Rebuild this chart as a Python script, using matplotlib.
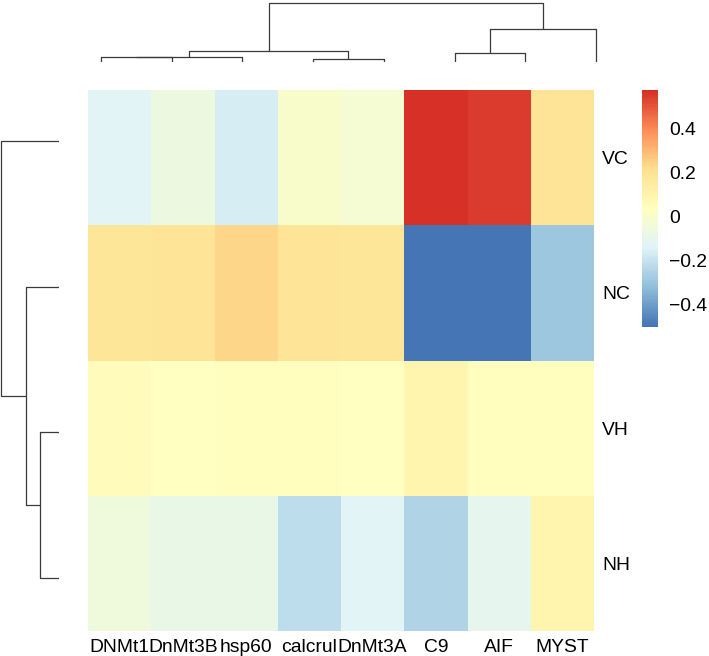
import matplotlib
matplotlib.use("Agg")
import matplotlib.pyplot as plt
import numpy as np
from matplotlib.colors import LinearSegmentedColormap

plt.rcParams['font.family'] = ['Liberation Sans', 'DejaVu Sans']

col_labels = ['DNMt1', 'DnMt3B', 'hsp60', 'calcrul', 'DnMt3A', 'C9', 'AIF', 'MYST']
row_labels = ['VC', 'NC', 'VH', 'NH']

vc = [-0.13, -0.06, -0.16, 0.00, -0.02, 0.577, 0.55, 0.20]
nc = [0.18, 0.19, 0.235, 0.19, 0.185, -0.50, -0.49, -0.29]
vh = [0.06, 0.03, 0.045, 0.045, 0.035, 0.10, 0.045, 0.045]
nh = [-0.05, -0.08, -0.08, -0.21, -0.13, -0.25, -0.11, 0.10]

# dendrogram merges: (left id, right id, height); leaves are 0..n-1 in display order
col_links = [(0, 1, 4.7), (8, 2, 5.3), (3, 4, 3.3), (9, 10, 11.0),
             (5, 6, 9.3), (12, 7, 33.3), (11, 13, 58.7)]
row_links = [(2, 3, 19.0), (1, 4, 33.0), (0, 5, 58.0)]

palette = ['#4575B4', '#91BFDB', '#E0F3F8', '#FFFFBF', '#FEE090', '#FC8D59', '#D73027']
cmap = LinearSegmentedColormap.from_list('rdylbu', palette, N=100)

data = np.array([vc, nc, vh, nh])
vmin, vmax = data.min(), data.max()

W, H = 709, 656
fig = plt.figure(figsize=(W / 100, H / 100), dpi=100)


def px_axes(x0, y0, x1, y1):
    return fig.add_axes([x0 / W, 1 - y1 / H, (x1 - x0) / W, (y1 - y0) / H])


def draw_dendro(ax, links, n, vertical):
    pos = {i: float(i) for i in range(n)}
    hgt = {i: 0.0 for i in range(n)}
    for k, (a, b, h) in enumerate(links):
        xa, xb = pos[a], pos[b]
        xs = [xa, xa, xb, xb]
        ys = [hgt[a], h, h, hgt[b]]
        if vertical:
            ax.plot(xs, ys, color='#3a3a3a', lw=0.9, solid_capstyle='butt')
        else:
            ax.plot(ys, xs, color='#3a3a3a', lw=0.9, solid_capstyle='butt')
        pos[n + k] = (xa + xb) / 2
        hgt[n + k] = h
    ax.axis('off')


# heatmap
ax = px_axes(88, 90, 594, 631)
ax.pcolormesh(data, cmap=cmap, vmin=vmin, vmax=vmax)
ax.set_xlim(0, len(col_labels))
ax.set_ylim(len(row_labels), 0)
ax.set_xticks(np.arange(len(col_labels)) + 0.5)
ax.set_xticklabels(col_labels, fontsize=13.9)
ax.set_yticks(np.arange(len(row_labels)) + 0.5)
ax.set_yticklabels(row_labels, fontsize=13.9)
ax.yaxis.tick_right()
ax.tick_params(length=0, pad=6)
for s in ax.spines.values():
    s.set_visible(False)

# column dendrogram
axc = px_axes(65.6, 0, 631.4, 62)
draw_dendro(axc, col_links, len(col_labels), True)
axc.set_xlim(-0.5, len(col_labels) - 0.5)
axc.set_ylim(0, max(h for _, _, h in col_links) * 1.057)

# row dendrogram
axr = px_axes(0, 68.2, 59, 650.8)
draw_dendro(axr, row_links, len(row_labels), False)
axr.set_ylim(len(row_labels) - 0.5, -0.5)
axr.set_xlim(max(h for _, _, h in row_links) * 1.02, 0)

# colour bar
cax = px_axes(642, 90, 658, 327)
sm = plt.cm.ScalarMappable(cmap=cmap, norm=plt.Normalize(vmin, vmax))
cb = fig.colorbar(sm, cax=cax, ticks=[-0.4, -0.2, 0, 0.2, 0.4])
cb.outline.set_visible(False)
cb.ax.set_yticklabels(['\u22120.4', '\u22120.2', '0', '0.2', '0.4'], fontsize=13.9)
cb.ax.tick_params(length=0, pad=8)

fig.savefig('out.png', dpi=100)
